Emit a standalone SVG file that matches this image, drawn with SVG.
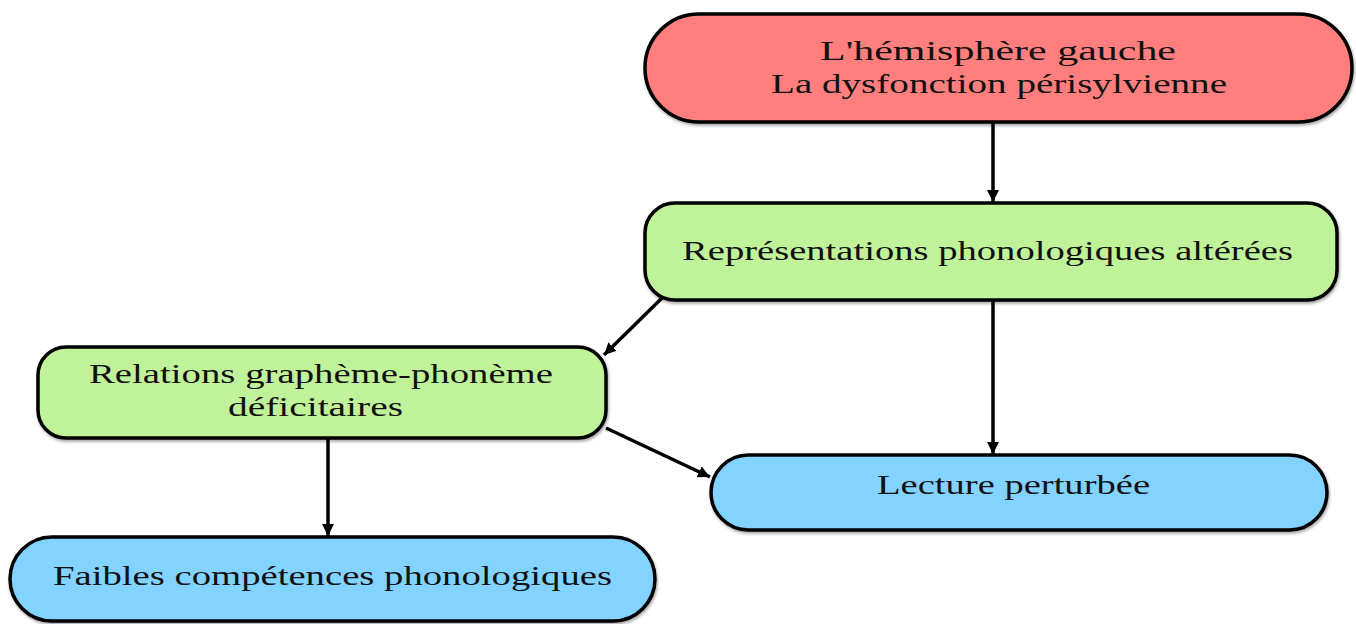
<svg xmlns="http://www.w3.org/2000/svg" width="1356" height="624" viewBox="0 0 1356 624">
<style>
.n{stroke:#000;stroke-width:3.5}
.red{fill:#FF7F7F}
.green{fill:#C0F29A}
.blue{fill:#82D3FF}
.t{font-family:"Liberation Serif","Times New Roman",serif;font-size:27px;fill:#111}
.c{stroke:#000;stroke-width:3.5;fill:none;marker-end:url(#ah)}
</style>
<defs>
<marker id="ah" markerUnits="userSpaceOnUse" markerWidth="14" markerHeight="14" refX="12" refY="6" orient="auto">
<path d="M0,0 L12,6 L0,12 Z" fill="#000"/>
</marker>
<filter id="sh" x="-5%" y="-10%" width="110%" height="130%">
<feDropShadow dx="1" dy="2" stdDeviation="1.5" flood-color="#000" flood-opacity="0.35"/>
</filter>
</defs>
<g id="connectors">
<line class="c" x1="993" y1="122" x2="993" y2="202"/>
<line class="c" x1="662" y1="298" x2="604" y2="355"/>
<line class="c" x1="993" y1="300" x2="993" y2="454"/>
<line class="c" x1="328" y1="438" x2="328" y2="536"/>
<line class="c" x1="606" y1="428" x2="710" y2="477"/>
</g>
<g id="node-hemisphere">
<rect class="n red" filter="url(#sh)" x="645" y="14" width="707" height="108" rx="54"/>
<text class="t" x="820" y="60" textLength="356" lengthAdjust="spacingAndGlyphs">L'hémisphère gauche</text>
<text class="t" x="771" y="93" textLength="456" lengthAdjust="spacingAndGlyphs">La dysfonction périsylvienne</text>
</g>
<g id="node-representations">
<rect class="n green" filter="url(#sh)" x="645" y="203" width="692" height="97" rx="30"/>
<text class="t" x="682" y="260" textLength="611" lengthAdjust="spacingAndGlyphs">Représentations phonologiques altérées</text>
</g>
<g id="node-relations">
<rect class="n green" filter="url(#sh)" x="38" y="347" width="568" height="91" rx="28"/>
<text class="t" x="89" y="383" textLength="464" lengthAdjust="spacingAndGlyphs">Relations graphème-phonème</text>
<text class="t" x="228" y="416" textLength="175" lengthAdjust="spacingAndGlyphs">déficitaires</text>
</g>
<g id="node-lecture">
<rect class="n blue" filter="url(#sh)" x="711" y="455" width="616" height="75" rx="37.5"/>
<text class="t" x="877" y="494" textLength="273" lengthAdjust="spacingAndGlyphs">Lecture perturbée</text>
</g>
<g id="node-faibles">
<rect class="n blue" filter="url(#sh)" x="10" y="537" width="645" height="84" rx="42"/>
<text class="t" x="53" y="585" textLength="559" lengthAdjust="spacingAndGlyphs">Faibles compétences phonologiques</text>
</g>
</svg>
